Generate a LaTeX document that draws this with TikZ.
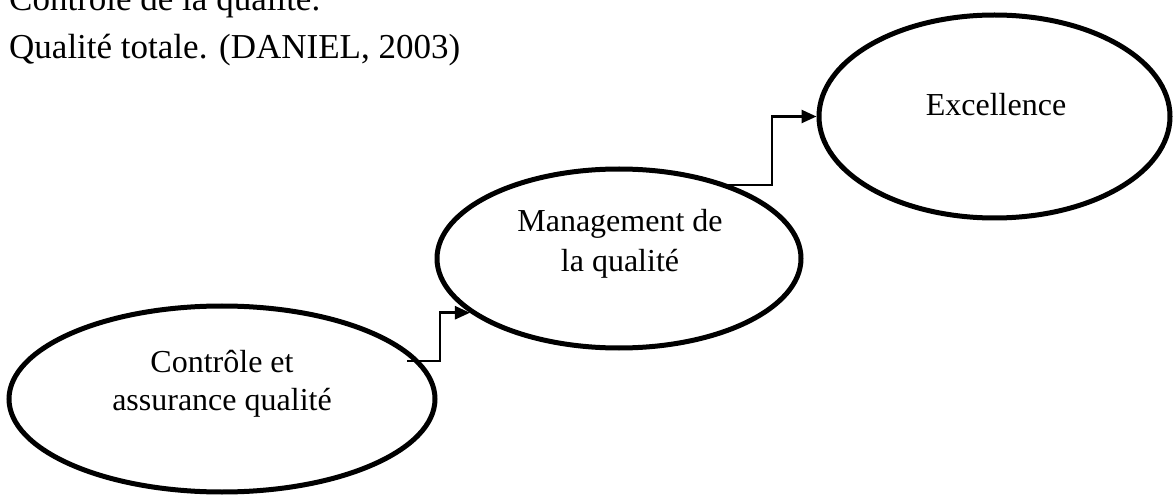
\documentclass[tikz,border=0pt]{standalone}
\usepackage{fontspec}
\setmainfont{Liberation Serif}
\usetikzlibrary{shapes.geometric,arrows.meta}
\begin{document}
\begin{tikzpicture}[x=1pt,y=1pt,
  ell/.style={draw=black, line width=5pt, ellipse, inner sep=0pt},
  txt/.style={inner sep=0pt, font=\fontsize{32}{39}\selectfont, text=black},
  toptxt/.style={inner sep=0pt, font=\fontsize{35}{42}\selectfont, text=black},
  conn/.style={draw=black, line width=2.5pt, -{Triangle[length=15pt,width=13pt]}}]
\useasboundingbox (0,0) rectangle (1173,496);
% top text lines
\node[toptxt, anchor=base west] (l1) at (9,485) {Contrôle de la qualité.};
\node[toptxt, anchor=base west] (l2) at (9,437) {Qualité totale. (DANIEL, 2003)};
% ellipses
\node[ell, minimum width=426pt, minimum height=186pt] (A) at (222,97) {};
\node[ell, minimum width=364pt, minimum height=179pt] (B) at (619,237.5) {};
\node[ell, minimum width=351pt, minimum height=203pt] (C) at (994.5,379.5) {};
% texts
\node[txt, anchor=base] (A1) at (222,124) {Contrôle et};
\node[txt, anchor=base] (A2) at (222,86) {assurance qualité};
\node[txt, anchor=base] (B1) at (620,264) {Management de};
\node[txt, anchor=base] (B2) at (620,224) {la qualité};
\node[txt, anchor=base] (C1) at (996,380) {Excellence};
% connectors
\coordinate (s1) at (407,135);
\coordinate (s2) at (722,311);
\draw[conn] (s1) -- ++(33,0) |- (B.200);
\draw[conn] (s2) -- ++(50,0) |- (C.west);
\end{tikzpicture}
\end{document}
